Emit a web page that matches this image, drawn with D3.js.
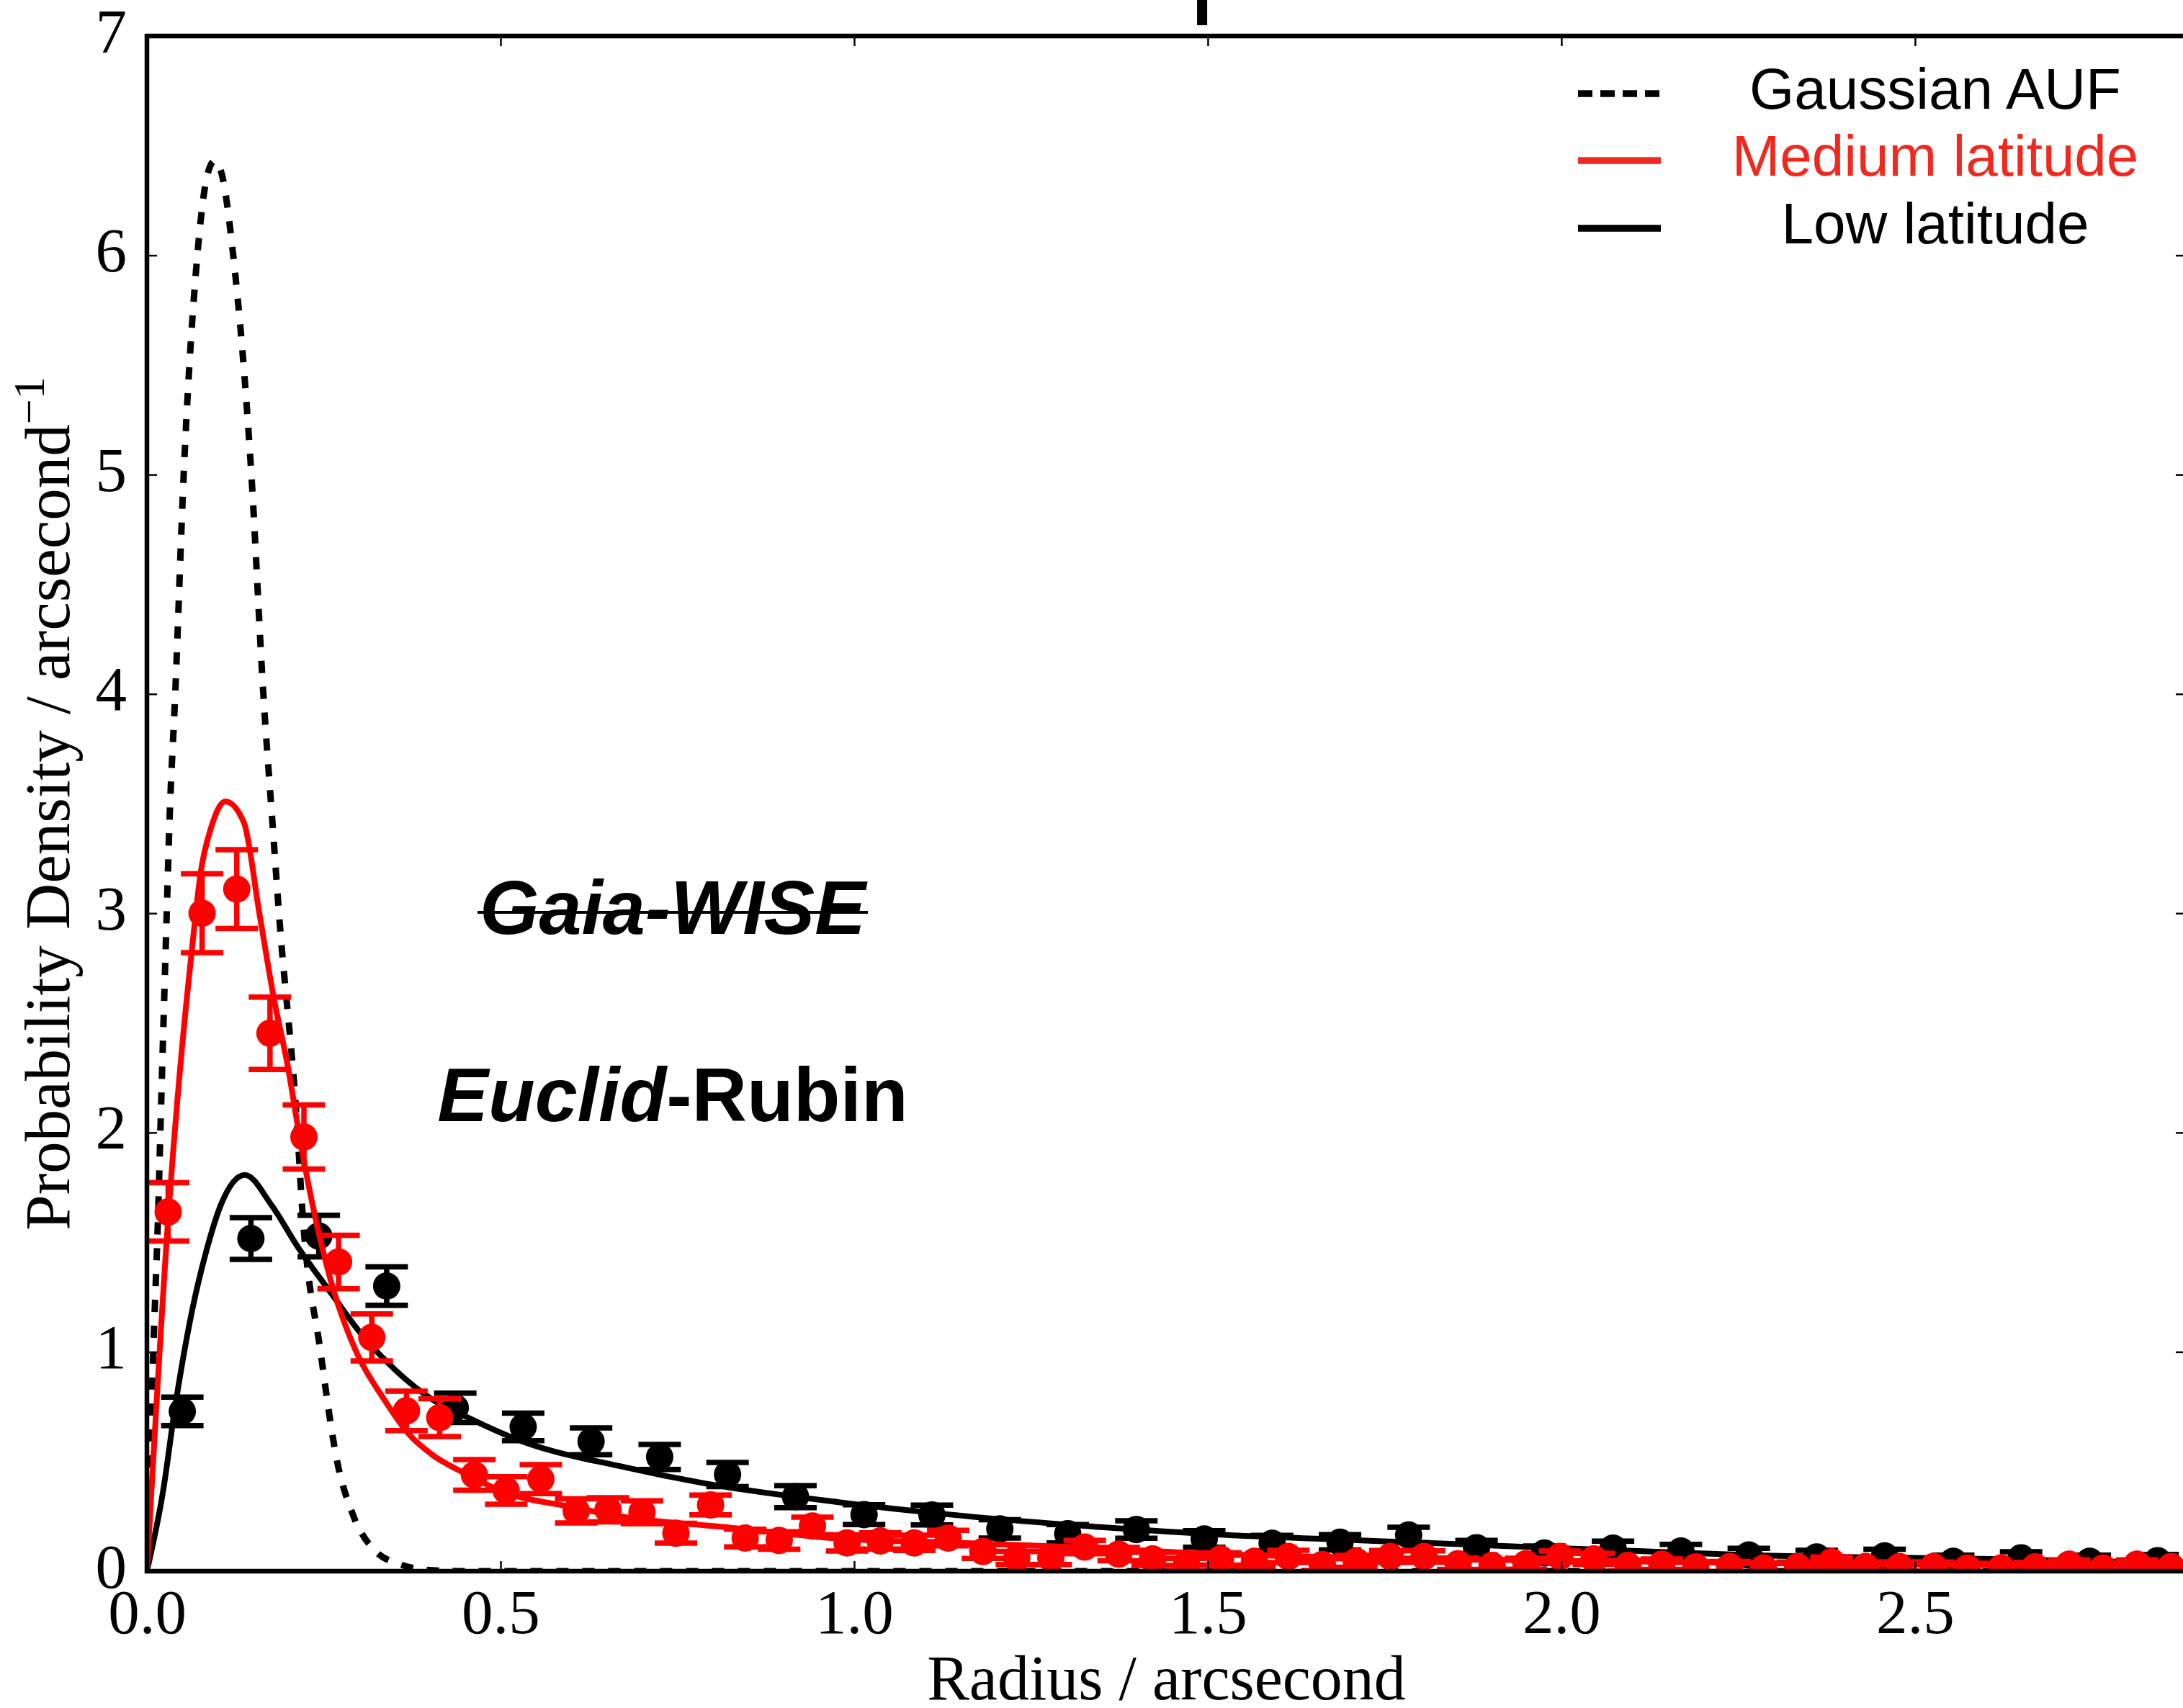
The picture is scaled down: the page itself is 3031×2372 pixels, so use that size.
<!DOCTYPE html>
<html>
<head>
<meta charset="utf-8">
<script src="https://cdn.jsdelivr.net/npm/d3@7"></script>
<style>
  body { margin: 0; background: #fff; }
  svg { display: block; }
</style>
</head>
<body>
<div class="chart"></div>
<script>
// ---- data ----
// Gaussian AUF (dashed) curve
const gaussX = [0, 0.009, 0.0163, 0.019, 0.028, 0.0316, 0.040, 0.052, 0.0713, 0.085, 0.0954, 0.105, 0.122, 0.1477, 0.1646, 0.178, 0.1867, 0.213, 0.219, 0.2455, 0.269, 0.291, 0.322, 0.359, 0.40, 0.45, 1.0, 2.0, 2.9];
const gaussY = [0, 1.0, 1.68, 2.0, 3.0, 3.39, 4.0, 5.0, 6.0, 6.36, 6.43, 6.38, 6.0, 5.0, 4.0, 3.39, 3.0, 2.0, 1.68, 1.0, 0.5, 0.26, 0.095, 0.03, 0.005, 0, 0, 0, 0];

// Medium latitude model curve (red)
const medX = [0, 0.0316, 0.050, 0.0638, 0.0757, 0.0907, 0.111, 0.137, 0.159, 0.179, 0.1996, 0.2166, 0.2336, 0.264, 0.296, 0.335, 0.369, 0.403, 0.447, 0.51, 0.595, 0.677, 0.82, 0.982, 1.133, 1.31, 1.5, 1.75, 2.0, 2.25, 2.5, 2.9];
const medY = [0, 1.68, 2.40, 2.84, 3.18, 3.39, 3.51, 3.415, 3.0, 2.62, 2.295, 1.967, 1.68, 1.28, 1.0, 0.785, 0.63, 0.532, 0.45, 0.355, 0.296, 0.246, 0.20, 0.148, 0.131, 0.11, 0.08, 0.06, 0.048, 0.038, 0.03, 0.022];

// Low latitude model curve (black)
const lowX = [0, 0.023, 0.04, 0.064, 0.084, 0.1045, 0.1385, 0.176, 0.213, 0.261, 0.301, 0.352, 0.403, 0.457, 0.524, 0.677, 0.789, 0.982, 1.133, 1.31, 1.527, 1.735, 1.943, 2.134, 2.277, 2.466, 2.609, 2.846, 2.9];
const lowY = [0, 0.368, 0.752, 1.19, 1.46, 1.67, 1.807, 1.67, 1.48, 1.265, 1.09, 0.915, 0.784, 0.696, 0.60, 0.473, 0.40, 0.313, 0.259, 0.21, 0.165, 0.138, 0.112, 0.089, 0.072, 0.062, 0.056, 0.039, 0.037];

// Medium latitude measurements (red points)
const medPtX = [0.030, 0.078, 0.127, 0.174, 0.222, 0.271, 0.318, 0.367, 0.414, 0.463, 0.508, 0.557, 0.607, 0.652, 0.700, 0.748, 0.797, 0.846, 0.894, 0.941, 0.990, 1.037, 1.085, 1.133, 1.182,
  1.230, 1.278, 1.326, 1.374, 1.422, 1.470, 1.518, 1.566, 1.614, 1.662, 1.710, 1.758, 1.806, 1.854, 1.902, 1.950, 1.998, 2.046, 2.094, 2.142,
  2.190, 2.238, 2.286, 2.334, 2.382, 2.430, 2.478, 2.526, 2.574, 2.622, 2.670, 2.718, 2.766, 2.814, 2.862];
const medPtY = [1.638, 3.00, 3.11, 2.453, 1.98, 1.41, 1.066, 0.731, 0.70, 0.439, 0.368, 0.42, 0.275, 0.28, 0.269, 0.173, 0.302, 0.151, 0.14, 0.206, 0.129, 0.138, 0.129, 0.151, 0.09,
  0.06, 0.06, 0.11, 0.078, 0.056, 0.03, 0.056, 0.045, 0.067, 0.03, 0.045, 0.067, 0.067, 0.034, 0.026, 0.034, 0.067, 0.056, 0.026, 0.032,
  0.02, 0.021, 0.015, 0.02, 0.043, 0.021, 0.021, 0.021, 0.015, 0.015, 0.02, 0.032, 0.015, 0.032, 0.021];
const medPtErr = [0.133, 0.18, 0.18, 0.165, 0.146, 0.122, 0.107, 0.09, 0.086, 0.07, 0.063, 0.066, 0.055, 0.055, 0.052, 0.045, 0.045, 0.04, 0.04, 0.04, 0.037, 0.037, 0.035, 0.035, 0.032,
  0.03, 0.03, 0.03, 0.03, 0.03, 0.028, 0.028, 0.028, 0.028, 0.027, 0.027, 0.027, 0.026, 0.026, 0.026, 0.025, 0.025, 0.025, 0.024, 0.024,
  0.023, 0.023, 0.022, 0.022, 0.022, 0.021, 0.021, 0.021, 0.02, 0.02, 0.02, 0.02, 0.02, 0.02, 0.02];

// Low latitude measurements (black points)
const lowPtX = [0.050, 0.147, 0.243, 0.339, 0.436, 0.532, 0.628, 0.725, 0.821, 0.917, 1.014, 1.110, 1.206, 1.302, 1.399, 1.495, 1.591, 1.687, 1.784, 1.880, 1.976, 2.073, 2.169, 2.265, 2.361, 2.457, 2.554, 2.650, 2.747, 2.843];
const lowPtY = [0.729, 1.517, 1.528, 1.30, 0.745, 0.658, 0.592, 0.521, 0.441, 0.34, 0.258, 0.256, 0.193, 0.171, 0.19, 0.147, 0.127, 0.132, 0.165, 0.107, 0.083, 0.105, 0.092, 0.074, 0.065, 0.07, 0.045, 0.061, 0.045, 0.048];
const lowPtErr = [0.065, 0.095, 0.095, 0.088, 0.067, 0.063, 0.061, 0.057, 0.055, 0.05, 0.045, 0.045, 0.042, 0.042, 0.04, 0.038, 0.036, 0.035, 0.035, 0.033, 0.032, 0.032, 0.03, 0.03, 0.03, 0.03, 0.028, 0.028, 0.028, 0.028];

// axis ticks and labels
const xTicks = [0, 0.5, 1.0, 1.5, 2.0, 2.5];
const yTicks = [0, 1, 2, 3, 4, 5, 6, 7];
const legendNames = ['Gaussian AUF', 'Medium latitude', 'Low latitude'];

// ---- canvas ----
const svg_width = 3031;
const svg_height = 2372;
const plot = {left: 204, right: 3035, top: 50, bottom: 2182};
const serif = '"Liberation Serif", "Times New Roman", Times, serif';
const sans = '"Liberation Sans", Arial, Helvetica, sans-serif';
const red = '#ff0000';
const legendRed = '#f0281e';

const svg = d3.select('.chart').append('svg')
  .attr('width', svg_width).attr('height', svg_height);

const xScale = d3.scaleLinear().domain([0, 2.883]).range([plot.left, plot.right]);
const yScale = d3.scaleLinear().domain([0, 7]).range([plot.bottom, plot.top]);

svg.append('defs').append('clipPath').attr('id', 'plot-clip')
  .append('rect')
  .attr('x', plot.left).attr('y', plot.top)
  .attr('width', plot.right - plot.left).attr('height', plot.bottom - plot.top);

const body = svg.append('g').attr('clip-path', 'url(#plot-clip)');

const zip = (xs, ys) => xs.map((x, i) => [x, ys[i]]);
const line = d3.line()
  .x(d => xScale(d[0]))
  .y(d => yScale(d[1]))
  .curve(d3.curveMonotoneX);

// dashed gaussian
body.append('path').datum(zip(gaussX, gaussY))
  .attr('d', line).attr('fill', 'none')
  .attr('stroke', '#000').attr('stroke-width', 9)
  .attr('stroke-dasharray', '17,19');

// error bars + points
function drawPoints(xs, ys, errs, color) {
  const pts = xs.map((x, i) => ({x: x, y: ys[i], e: errs[i]}));
  const g = body.append('g');
  const cap = 29.5;
  const eb = g.selectAll('.eb').data(pts).enter().append('g');
  eb.append('line')
    .attr('x1', d => xScale(d.x)).attr('x2', d => xScale(d.x))
    .attr('y1', d => yScale(d.y - d.e)).attr('y2', d => yScale(d.y + d.e))
    .attr('stroke', color).attr('stroke-width', 7.5);
  [-1, 1].forEach(s => {
    eb.append('line')
      .attr('x1', d => xScale(d.x) - cap).attr('x2', d => xScale(d.x) + cap)
      .attr('y1', d => yScale(d.y + s * d.e)).attr('y2', d => yScale(d.y + s * d.e))
      .attr('stroke', color).attr('stroke-width', 7.5);
  });
  eb.append('circle')
    .attr('cx', d => xScale(d.x)).attr('cy', d => yScale(d.y))
    .attr('r', 19).attr('fill', color);
}

// low latitude (black) first, then medium (red) on top
body.append('path').datum(zip(lowX, lowY))
  .attr('d', line).attr('fill', 'none')
  .attr('stroke', '#000').attr('stroke-width', 8);
drawPoints(lowPtX, lowPtY, lowPtErr, '#000');

body.append('path').datum(zip(medX, medY))
  .attr('d', line).attr('fill', 'none')
  .attr('stroke', red).attr('stroke-width', 8);
drawPoints(medPtX, medPtY, medPtErr, red);

// ---- axes ----
const xAxis = svg.append('g').attr('class', 'x axis')
  .attr('transform', `translate(0,${plot.bottom})`)
  .call(d3.axisBottom(xScale).tickValues(xTicks).tickFormat(d3.format('.1f'))
    .tickSizeInner(-14).tickSizeOuter(0));
xAxis.select('.domain').remove();
xAxis.selectAll('.tick line').attr('stroke', '#000').attr('stroke-width', 2.5);
xAxis.selectAll('text').attr('y', 86).attr('dy', 0)
  .style('font-family', serif).style('font-size', '87px').attr('fill', '#000');

const xAxisTop = svg.append('g')
  .attr('transform', `translate(0,${plot.top})`)
  .call(d3.axisTop(xScale).tickValues(xTicks).tickFormat('').tickSizeInner(-14).tickSizeOuter(0));
xAxisTop.select('.domain').remove();
xAxisTop.selectAll('.tick line').attr('stroke', '#000').attr('stroke-width', 2.5);

const yAxis = svg.append('g').attr('class', 'y axis')
  .attr('transform', `translate(${plot.left},0)`)
  .call(d3.axisLeft(yScale).tickValues(yTicks).tickFormat(d3.format('d'))
    .tickSizeInner(-14).tickSizeOuter(0));
yAxis.select('.domain').remove();
yAxis.selectAll('.tick line').attr('stroke', '#000').attr('stroke-width', 2.5);
yAxis.selectAll('text').attr('x', -28).attr('dy', 0).attr('y', 22)
  .style('font-family', serif).style('font-size', '87px').attr('fill', '#000');

const yAxisRight = svg.append('g')
  .attr('transform', `translate(${plot.right},0)`)
  .call(d3.axisRight(yScale).tickValues(yTicks).tickFormat('').tickSizeInner(-14).tickSizeOuter(0));
yAxisRight.select('.domain').remove();
yAxisRight.selectAll('.tick line').attr('stroke', '#000').attr('stroke-width', 2.5);

// spines
svg.append('rect')
  .attr('x', plot.left).attr('y', plot.top)
  .attr('width', plot.right - plot.left).attr('height', plot.bottom - plot.top)
  .attr('fill', 'none').attr('stroke', '#000').attr('stroke-width', 6.5);

// stray mark above the frame
svg.append('rect').attr('x', xScale(1.492) - 7).attr('y', 0)
  .attr('width', 14).attr('height', 35).attr('fill', '#000');

// axis titles
svg.append('text')
  .attr('x', (plot.left + plot.right) / 2).attr('y', 2360)
  .attr('text-anchor', 'middle')
  .style('font-family', serif).style('font-size', '88px')
  .text('Radius / arcsecond');

const yTitle = svg.append('text')
  .attr('transform', 'translate(96,1116) rotate(-90)')
  .attr('text-anchor', 'middle')
  .style('font-family', serif).style('font-size', '89px');
yTitle.append('tspan').text('Probability Density / arcsecond');
yTitle.append('tspan').attr('dy', -35).style('font-size', '62px').text('\u22121');

// ---- annotations ----
const gaia = svg.append('text')
  .attr('x', 934).attr('y', 1297).attr('text-anchor', 'middle')
  .style('font-family', sans).style('font-size', '106px')
  .style('font-weight', 'bold').style('font-style', 'italic')
  .text('Gaia-WISE');
const gw = gaia.node().getComputedTextLength();
svg.append('line')
  .attr('x1', 934 - gw / 2 - 3).attr('x2', 934 + gw / 2 + 3)
  .attr('y1', 1267).attr('y2', 1267)
  .attr('stroke', '#000').attr('stroke-width', 4);

const euclid = svg.append('text')
  .attr('x', 934).attr('y', 1557).attr('text-anchor', 'middle')
  .style('font-family', sans).style('font-size', '106px').style('font-weight', 'bold');
euclid.append('tspan').style('font-style', 'italic').text('Euclid');
euclid.append('tspan').text('-Rubin');

// ---- legend ----
const legendRows = [
  {name: legendNames[0], color: '#000', dash: '20,11', y: 130},
  {name: legendNames[1], color: legendRed, dash: null, y: 223},
  {name: legendNames[2], color: '#000', dash: null, y: 317}
];
const legend = svg.append('g').attr('class', 'legend');
legendRows.forEach(r => {
  legend.append('line')
    .attr('x1', 2191).attr('x2', 2306).attr('y1', r.y).attr('y2', r.y)
    .attr('stroke', r.color).attr('stroke-width', 9.5)
    .attr('stroke-dasharray', r.dash);
  legend.append('text')
    .attr('x', 2687).attr('y', r.y + 21).attr('text-anchor', 'middle')
    .style('font-family', sans).style('font-size', '80px')
    .attr('fill', r.color).text(r.name);
});
</script>
</body>
</html>
